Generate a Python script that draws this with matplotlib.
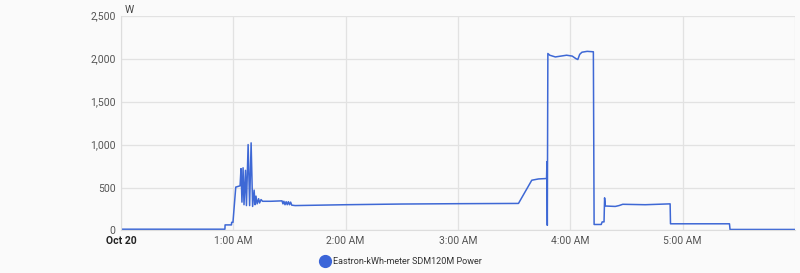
import matplotlib.pyplot as plt
import numpy as np

plt.rcParams['font.family'] = ['Roboto', 'DejaVu Sans']

# Power readings: minutes after midnight (Oct 20) and watts
minutes = [0, 55.5, 55.6, 59.0, 59.1, 59.8, 61.3, 63.6, 64.1, 64.6, 65.2, 65.7, 66.5, 67.0,
           67.9, 68.7, 69.5, 70.3, 71.1, 71.6, 72.1, 72.7, 73.5, 74.0, 74.8, 75.6, 80, 86,
           86.5, 87.0, 87.6, 88.2, 88.8, 89.4, 90.0, 90.6, 91.2, 93, 120, 150, 180, 212.3,
           219.4, 223, 227.3, 227.5, 227.7, 228, 229, 232, 235, 238, 241, 243, 244, 245,
           246.2, 249, 252.3, 252.7, 256.5, 257, 258, 258.3, 258.7, 264, 266, 268, 280,
           293.3, 293.5, 325, 325.3, 360]
watts = [15, 15, 65, 65, 95, 95, 505, 520, 720, 330, 730, 300, 700, 290,
         1000, 290, 1020, 280, 470, 300, 400, 310, 370, 320, 360, 340, 340, 345,
         310, 340, 300, 335, 300, 335, 300, 330, 295, 290, 300, 308, 312, 315,
         585, 600, 605, 800, 60, 2060, 2040, 2020, 2030, 2040, 2030, 2000, 1990, 2050,
         2075, 2085, 2080, 70, 70, 100, 100, 380, 285, 280, 290, 305, 300,
         310, 78, 78, 12, 12]

hour_ticks = [0, 60, 120, 180, 240, 300, 360]
hour_labels = ["Oct 20", "1:00 AM", "2:00 AM", "3:00 AM", "4:00 AM", "5:00 AM", ""]
y_ticks = [0, 500, 1000, 1500, 2000, 2500]
series_name = "Eastron-kWh-meter SDM120M Power"

bg = "#fafafa"
fig = plt.figure(figsize=(8, 2.73), dpi=100, facecolor=bg)
ax = fig.add_axes([0.15125, 0.1557, 0.8425, 0.7868])
ax.set_facecolor(bg)

ax.plot(minutes, watts, color="#3e68d5", linewidth=1.1)

ax.set_xlim(0, 360)
ax.set_ylim(0, 2500)
ax.set_xticks(hour_ticks)
ax.set_xticklabels(hour_labels)
ax.set_yticks(y_ticks)
ax.set_yticklabels([f"{v:,}" for v in y_ticks])
ax.tick_params(length=0, labelsize=7.5, colors="#555555", pad=4)
ax.get_xticklabels()[0].set_fontweight("bold")
ax.get_xticklabels()[0].set_color("#222222")

ax.grid(True, color="#e2e2e2", linewidth=0.9)
ax.set_axisbelow(True)
for side in ["top", "right"]:
    ax.spines[side].set_visible(False)
for side in ["left", "bottom"]:
    ax.spines[side].set_color("#dddddd")

ax.text(0.005, 1.005, "W", transform=ax.transAxes, fontsize=7.5, color="#444444",
        ha="left", va="bottom")

# legend below the chart
fig.legend(handles=[plt.Line2D([], [], marker="o", linestyle="none", markersize=8.5,
                               color="#3b65d8")],
           labels=[series_name], loc="center", bbox_to_anchor=(0.501, 0.043),
           frameon=False, fontsize=6.5, handletextpad=0.35, handlelength=1.2,
           labelcolor="#333333")

fig.savefig("out.png", dpi=100, facecolor=bg)
